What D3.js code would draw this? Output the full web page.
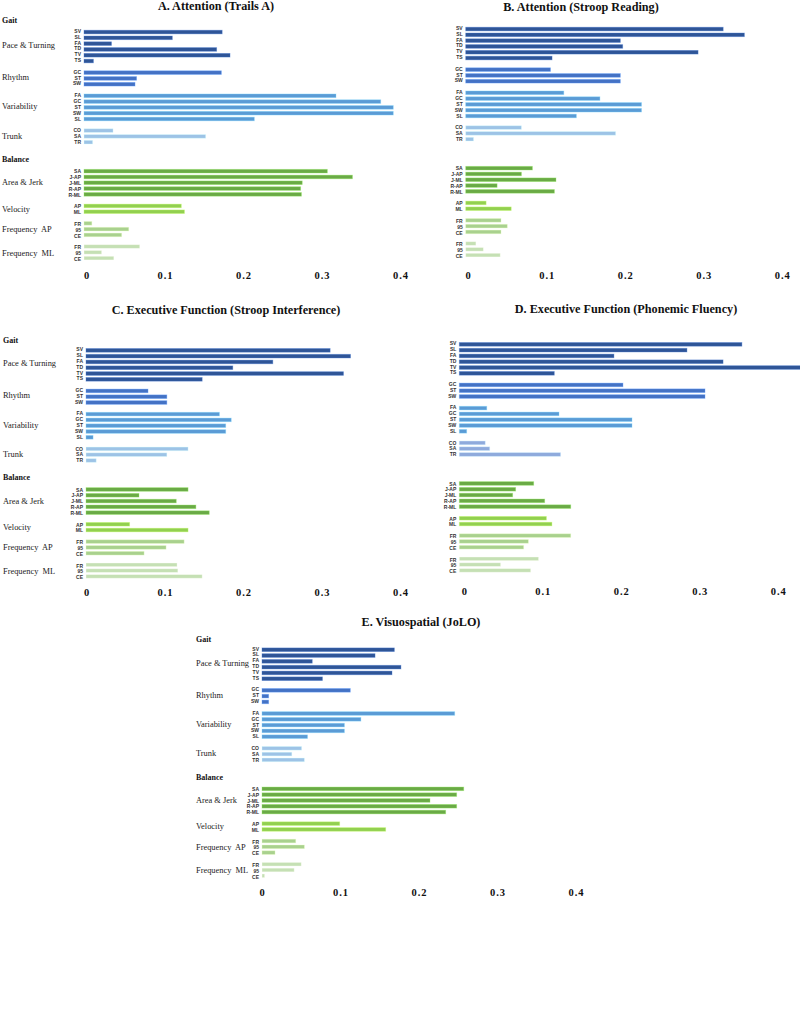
<!DOCTYPE html>
<html>
<head>
<meta charset="utf-8">
<script src="https://cdn.jsdelivr.net/npm/d3@7.9.0/dist/d3.min.js"></script>
<style>
  html, body { margin: 0; padding: 0; background: #fff; }
  svg { display: block; }
</style>
</head>
<body>
<svg id="chart"></svg>
<script>
const width = 800;
const height = 1019;

// Row codes, one list per group
const codes = [
  ["SV", "SL", "FA", "TD", "TV", "TS"],
  ["GC", "ST", "SW"],
  ["FA", "GC", "ST", "SW", "SL"],
  ["CO", "SA", "TR"],
  ["SA", "J-AP", "J-ML", "R-AP", "R-ML"],
  ["AP", "ML"],
  ["FR", "95", "CE"],
  ["FR", "95", "CE"]
];
const groupNames = ["Pace & Turning", "Rhythm", "Variability", "Trunk",
  "Area & Jerk", "Velocity", "Frequency  AP", "Frequency  ML"];
const sectionNames = ["Gait", "Balance"];
const tickValues = [0, 0.1, 0.2, 0.3, 0.4];

// values in the same order as codes (flattened)
const trailsA = [0.176, 0.1125, 0.035, 0.169, 0.186, 0.012,
  0.175, 0.067, 0.065,
  0.321, 0.378, 0.394, 0.394, 0.217,
  0.037, 0.155, 0.011,
  0.310, 0.342, 0.278, 0.276, 0.277,
  0.124, 0.128,
  0.010, 0.057, 0.048,
  0.071, 0.0225, 0.038];
const stroopReading = [0.328, 0.355, 0.197, 0.200, 0.296, 0.110,
  0.108, 0.197, 0.197,
  0.125, 0.171, 0.224, 0.224, 0.141,
  0.071, 0.191, 0.010,
  0.085, 0.071, 0.115, 0.040, 0.113,
  0.026, 0.058,
  0.045, 0.053, 0.045,
  0.013, 0.0225, 0.044];
const stroopInterference = [0.311, 0.337, 0.238, 0.187, 0.328, 0.148,
  0.079, 0.103, 0.103,
  0.170, 0.185, 0.178, 0.178, 0.009,
  0.130, 0.103, 0.013,
  0.130, 0.0675, 0.115, 0.140, 0.157,
  0.0556, 0.130,
  0.125, 0.102, 0.074,
  0.116, 0.117, 0.148];
const phonemicFluency = [0.360, 0.290, 0.197, 0.336, 0.44, 0.121,
  0.2085, 0.313, 0.313,
  0.035, 0.127, 0.220, 0.220, 0.0094,
  0.033, 0.0387, 0.129,
  0.0948, 0.0718, 0.068, 0.1088, 0.142,
  0.111, 0.118,
  0.142, 0.088, 0.082,
  0.101, 0.0527, 0.091];
const jolo = [0.1686, 0.144, 0.064, 0.177, 0.1656, 0.077,
  0.1125, 0.0085, 0.0085,
  0.2455, 0.126, 0.105, 0.105, 0.058,
  0.0505, 0.038, 0.054,
  0.257, 0.248, 0.214, 0.248, 0.234,
  0.099, 0.1576,
  0.043, 0.054, 0.0166,
  0.050, 0.041, 0.0034];

const groupColors = ["#2F5597", "#4472C4", "#5B9BD5", "#9DC3E6",
  "#6AAA46", "#92D050", "#A9D18E", "#C5E0B4"];

const panels = [
  { title: "A. Attention (Trails A)", values: trailsA, x0: 84, y0: 31,
    titleX: 216, titleY: 10, tickY: 279, tickShift: 2.5, labelX: 2, labels: true, gaitDy: -8.5 },
  { title: "B. Attention (Stroop Reading)", values: stroopReading, x0: 465.7, y0: 28,
    titleX: 581, titleY: 10.5, tickY: 279, tickShift: 2.5, labels: false },
  { title: "C. Executive Function (Stroop Interference)", values: stroopInterference, x0: 86, y0: 349.3,
    titleX: 226, titleY: 314, tickY: 595.5, tickShift: 0.5, labelX: 3, labels: true, gaitDy: -6.5 },
  { title: "D. Executive Function (Phonemic Fluency)", values: phonemicFluency, x0: 459.3, y0: 343.3,
    titleX: 626, titleY: 313, tickY: 595, tickShift: 5, labels: false, trunkColor: "#8FAADC" },
  { title: "E. Visuospatial (JoLO)", values: jolo, x0: 262, y0: 648.7,
    titleX: 421, titleY: 626, tickY: 896, tickShift: 0, labelX: 196, labels: true, gaitDy: -7 }
];

const step = 5.85;
const serif = "'Times New Roman', 'Liberation Serif', serif";

// row index for every bar: one empty row between groups, four before Balance
const rows = [];
let r = 0;
codes.forEach((list, gi) => {
  if (gi === 4) r += 3;
  list.forEach(code => {
    rows.push({ group: gi, code: code, row: r });
    r++;
  });
  r++;
});
const nRows = r - 1;
const groupRows = codes.map((list, gi) => {
  const rs = rows.filter(d => d.group === gi).map(d => d.row);
  return (d3.min(rs) + d3.max(rs)) / 2;
});

const svg = d3.select("#chart").attr("width", width).attr("height", height);
svg.append("rect").attr("width", width).attr("height", height).attr("fill", "#fff");

panels.forEach(p => {
  const g = svg.append("g");

  const x = d3.scaleLinear().domain([0, 0.4]).range([p.x0, p.x0 + 314]);
  const y = d3.scaleBand()
    .domain(d3.range(nRows))
    .range([p.y0 - step / 2, p.y0 - step / 2 + nRows * step])
    .padding(0.37);
  const yc = i => p.y0 + i * step;

  const color = gi => (gi === 3 && p.trunkColor) ? p.trunkColor : groupColors[gi];

  g.append("text")
    .attr("x", p.titleX)
    .attr("y", p.titleY)
    .attr("text-anchor", "middle")
    .style("font-family", serif)
    .style("font-weight", "bold")
    .style("font-size", "12.2px")
    .style("fill", "#111")
    .text(p.title);

  const data = rows.map((d, i) => Object.assign({ value: p.values[i] }, d));

  g.selectAll("rect.bar").data(data).enter()
    .append("rect")
    .attr("class", "bar")
    .attr("x", x(0))
    .attr("y", d => y(d.row))
    .attr("width", d => x(d.value) - x(0))
    .attr("height", y.bandwidth())
    .attr("fill", d => color(d.group))
    .attr("stroke", d => d3.color(color(d.group)).brighter(0.9))
    .attr("stroke-opacity", 0.45)
    .attr("stroke-width", 0.8);

  g.selectAll("text.code").data(data).enter()
    .append("text")
    .attr("class", "code")
    .attr("x", x(0) - 3)
    .attr("y", d => yc(d.row) + 1.8)
    .attr("text-anchor", "end")
    .style("font-family", "'Liberation Sans', Arial, sans-serif")
    .style("font-weight", "bold")
    .style("font-size", "5px")
    .style("fill", "#333")
    .text(d => d.code);

  if (p.labels) {
    g.append("text")
      .attr("x", p.labelX)
      .attr("y", p.y0 + p.gaitDy)
      .style("font-family", serif)
      .style("font-weight", "bold")
      .style("font-size", "8px")
      .style("fill", "#111")
      .text(sectionNames[0]);
    g.append("text")
      .attr("x", p.labelX)
      .attr("y", yc(rows[17].row) - 9.5)
      .style("font-family", serif)
      .style("font-weight", "bold")
      .style("font-size", "8px")
      .style("fill", "#111")
      .text(sectionNames[1]);
    g.selectAll("text.group").data(groupNames).enter()
      .append("text")
      .attr("class", "group")
      .attr("x", p.labelX)
      .attr("y", (d, i) => yc(groupRows[i]) + 2.2)
      .style("font-family", serif)
      .style("font-size", "8.4px")
      .style("white-space", "pre")
      .style("fill", "#222")
      .text(d => d);
  }

  const axis = d3.axisBottom(x)
    .tickValues(tickValues)
    .tickSize(0)
    .tickFormat(d => d === 0 ? "0" : d3.format(".1f")(d));

  const ax = g.append("g")
    .attr("transform", `translate(${p.tickShift},${p.tickY})`)
    .call(axis);
  ax.select(".domain").remove();
  ax.selectAll("text")
    .attr("y", 0)
    .attr("dy", 0)
    .style("font-family", serif)
    .style("font-weight", "bold")
    .style("font-size", "10.5px")
    .style("letter-spacing", "1px")
    .style("fill", "#111");
});
</script>
</body>
</html>
